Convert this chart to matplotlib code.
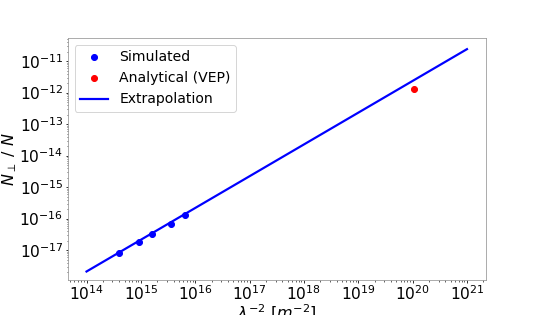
import matplotlib
matplotlib.use("Agg")
import matplotlib.pyplot as plt
from matplotlib.ticker import LogLocator

# simulated points
sim_x = [4.0e14, 9.1e14, 1.62e15, 3.6e15, 6.4e15]
sim_y = [8.0e-18, 1.8e-17, 3.2e-17, 6.9e-17, 1.3e-16]

# analytical (VEP)
vep_x = [1.05e20]
vep_y = [1.3e-12]

# extrapolation line
ext_x = [1e14, 1e21]
ext_y = [2.1e-18, 2.4e-11]

fig = plt.figure(figsize=(7.5, 4.375), dpi=72)
ax = fig.add_subplot(111)

ax.plot(sim_x, sim_y, 'o', color='blue', markersize=6, label='Simulated')
ax.plot(vep_x, vep_y, 'o', color='red', markersize=6, label='Analytical (VEP)')
ax.plot(ext_x, ext_y, '-', color='blue', linewidth=2.2, label='Extrapolation')

ax.set_xscale('log')
ax.set_yscale('log')
ax.set_ylim(1.1e-18, 5.5e-11)
ax.yaxis.set_major_locator(LogLocator(base=10, numticks=20))
ax.xaxis.set_major_locator(LogLocator(base=10, numticks=20))
ax.set_xlabel(r'$\lambda^{-2}$ $[m^{-2}]$', fontsize=16, labelpad=0)
ax.set_ylabel(r'$N_\perp$ / $N$', fontsize=16, labelpad=0)
ax.tick_params(which='major', labelsize=15.5, length=2.5, pad=1.5)
ax.tick_params(which='minor', length=1.5)
for s in ax.spines.values():
    s.set_color('#999999')
ax.legend(loc='upper left', fontsize=14)

fig.savefig('out.png', dpi=72)
